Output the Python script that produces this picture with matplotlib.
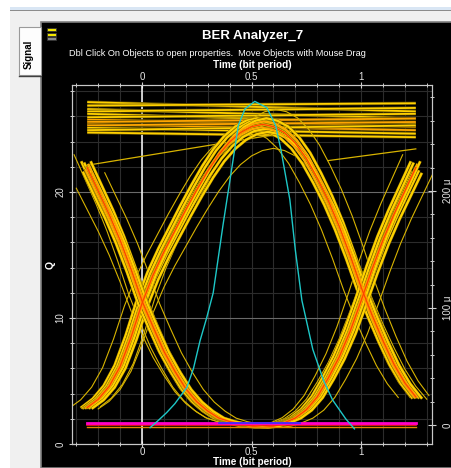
import matplotlib
matplotlib.use('Agg')
import matplotlib.pyplot as plt
from matplotlib.patches import Rectangle
from matplotlib.ticker import MultipleLocator, FixedLocator, FixedFormatter
import matplotlib.patheffects as pe

plt.rcParams['font.family'] = ['Liberation Sans', 'DejaVu Sans']

# ---------------- data ----------------
# eye-diagram sample times (bit periods)
t_pts = [-0.25, -0.2, -0.15, -0.1, -0.05, 0.0, 0.05, 0.1, 0.15, 0.2, 0.25,
         0.3, 0.35, 0.4, 0.45, 0.5, 0.55, 0.6, 0.65, 0.7, 0.75, 0.8, 0.85,
         0.9, 0.95, 1.0, 1.05, 1.1, 1.15, 1.2, 1.25]
# 0-1-0 trace core (uW, right axis)
hump_uW = [15, 22, 33, 50, 75, 104, 128, 148, 166, 184, 201, 217, 231, 242,
           250, 255, 257, 255, 250, 241, 228, 211, 192, 170, 145, 118, 94, 72,
           52, 36, 24]
# 1-0-1 trace core (uW, right axis)
bowl_uW = [220, 200, 180, 158, 133, 106, 84, 63, 46, 31, 20, 12, 6, 3, 1, -1,
           -2, -1, 2, 6, 13, 24, 40, 58, 80, 106, 133, 158, 180, 200, 220]
# spread of the traces in the bands
band_shift = [-0.025, -0.018, -0.012, -0.006, 0.0, 0.006, 0.012, 0.018, 0.025]
band_gain = [1.02, 0.98, 1.015, 0.99, 1.0, 1.01, 0.985, 1.02, 0.975]
outlier_shift = [-0.08, 0.05, 0.06]
outlier_gain = [0.98, 0.92, 1.05]
# "1" level flat traces: level at t=-0.25 and t=1.25 (uW)
span = [-0.25, 1.25]
flat_start = [276, 273, 270, 268, 266, 263, 261, 259, 257, 256, 254, 252, 250]
flat_end = [268, 275, 262, 271, 258, 266, 255, 262, 252, 259, 249, 256, 246]
slant_t = [[-0.25, 0.6], [0.85, 1.25]]
slant_uW = [[222, 248], [226, 236]]
# "0" level traces (uW)
zero_levels = [1.5, 0.2, -1.5]
zero_mid_t = [0.35, 0.72]
zero_mid_level = 2.0
# Q-factor curve (left axis)
q_t = [0.037, 0.07, 0.113, 0.15, 0.205, 0.235, 0.265, 0.295, 0.325, 0.37,
       0.41, 0.44, 0.47, 0.515, 0.57, 0.61, 0.635, 0.675, 0.70, 0.73, 0.78,
       0.83, 0.87, 0.93, 0.97]
q_val = [1.3, 1.8, 2.5, 3.2, 4.5, 6.0, 8.2, 10.0, 12.0, 17.4, 21.9, 25.3,
         26.6, 27.2, 26.7, 25.3, 23.3, 19.4, 15.4, 11.4, 7.5, 5.0, 3.5, 2.0,
         1.2]
# axes
x_major = [0, 0.5, 1]
x_labels = ['0', '0.5', '1']
q_major = [0, 10, 20]
q_labels = ['0', '10', '20']
p_major = [0, 100, 200]
p_labels = ['0', '100 \u03bc', '200 \u03bc']

# ---------------- figure & window chrome ----------------
W, H = 452, 468
fig = plt.figure(figsize=(W / 100, H / 100), dpi=100, facecolor='#f0f0f0')
bg = fig.add_axes([0, 0, 1, 1])
bg.set_xlim(0, W)
bg.set_ylim(H, 0)
bg.axis('off')
bg.add_patch(Rectangle((0, 0), 10, H, color='white', lw=0))
bg.add_patch(Rectangle((0, 0), W, 7, color='white', lw=0))
bg.add_patch(Rectangle((10, 7), W - 10, 3, color='#d9e6f4', lw=0))
bg.add_patch(Rectangle((10, 10), W - 10, 1.2, color='#8c8c8c', lw=0))
bg.add_patch(Rectangle((41, 21.5), W - 41, H - 21.5, facecolor='black',
                       edgecolor='#808080', lw=1.2))
bg.add_patch(Rectangle((19, 27), 22, 48, facecolor='#fdfdfd',
                       edgecolor='#9a9a9a', lw=0.8))
bg.plot([19, 41], [75.5, 75.5], color='#404040', lw=1)
bg.text(29, 54, 'Signal', rotation=90, ha='center', va='center', fontsize=7,
        fontweight='bold', color='black')
bg.add_patch(Rectangle((47, 27.5), 9, 3.5, facecolor='#f2e600',
                       edgecolor='#333333', lw=0.6))
bg.add_patch(Rectangle((47, 32.5), 9, 3.5, facecolor='#f2e600',
                       edgecolor='#333333', lw=0.6))
bg.add_patch(Rectangle((47, 37), 9, 2.5, facecolor='#8a8a8a',
                       edgecolor='#333333', lw=0.6))
bg.text(252.5, 36, 'BER Analyzer_7', ha='center', va='center', color='white',
        fontsize=9.5, fontweight='bold')
bg.text(217.5, 53.5,
        'Dbl Click On Objects to open properties.  Move Objects with Mouse Drag',
        ha='center', va='center', color='white', fontsize=6.6)
bg.text(252, 64.5, 'Time (bit period)', ha='center', va='center',
        color='white', fontsize=7.2, fontweight='bold')
bg.text(252, 462, 'Time (bit period)', ha='center', va='center',
        color='white', fontsize=7.2, fontweight='bold')
bg.text(51, 265, 'Q', rotation=90, ha='center', va='center', color='white',
        fontsize=7.5, fontweight='bold')

# ---------------- plot axes ----------------
L, R, T, B = 72, 432, 85, 444
ax = fig.add_axes([L / W, (H - B) / H, (R - L) / W, (B - T) / H])
ax.set_facecolor('black')
ax.set_xlim(-0.3196, 1.324)
ax.set_ylim(0, 28.5)
ax2 = ax.twinx()
ax2.set_ylim(-16.2, 290.6)

for a in (ax, ax2):
    for s in a.spines.values():
        s.set_color('#c8c8c8')
        s.set_linewidth(0.8)
ax.spines['bottom'].set_linestyle((0, (1, 1)))
ax2.spines['right'].set_linestyle((0, (1, 1)))

ax.xaxis.set_major_locator(FixedLocator(x_major))
ax.xaxis.set_major_formatter(FixedFormatter(x_labels))
ax.xaxis.set_minor_locator(MultipleLocator(0.1))
ax.yaxis.set_major_locator(FixedLocator(q_major))
ax.yaxis.set_major_formatter(FixedFormatter(q_labels))
ax.yaxis.set_minor_locator(MultipleLocator(2))
ax2.yaxis.set_major_locator(FixedLocator(p_major))
ax2.yaxis.set_major_formatter(FixedFormatter(p_labels))
ax2.yaxis.set_minor_locator(MultipleLocator(20))

ax.tick_params(axis='x', which='both', top=True, bottom=True, labeltop=True,
               labelbottom=True, direction='inout', colors='#d0d0d0',
               labelcolor='#e6e6e6', labelsize=7, pad=0.5)
ax.tick_params(axis='x', which='major', length=4, width=0.8)
ax.tick_params(axis='x', which='minor', length=3, width=0.7)
ax.tick_params(axis='y', which='both', direction='inout', colors='#d0d0d0',
               labelcolor='#e6e6e6', labelsize=7, labelrotation=90, pad=2.5)
ax.tick_params(axis='y', which='major', length=4, width=0.8)
ax.tick_params(axis='y', which='minor', length=3, width=0.7)
ax2.tick_params(axis='y', which='both', direction='inout', colors='#d0d0d0',
                labelcolor='#e6e6e6', labelsize=7, labelrotation=90, pad=5)
ax2.tick_params(axis='y', which='major', length=6, width=0.8)
ax2.tick_params(axis='y', which='minor', length=3, width=0.7)
for lab in ax.get_yticklabels() + ax2.get_yticklabels():
    lab.set_va('center')

ax.set_axisbelow(True)
ax.grid(which='minor', color='#2c2c2c', lw=0.8)
ax.grid(which='major', axis='y', color='#6a6a6a', lw=0.8)
ax.grid(which='major', axis='x', color='#2c2c2c', lw=0.8)
ax.axvline(x_major[0], color='white', lw=1.1, zorder=1)

# ---------------- eye diagram (right axis) ----------------
def shifted(dt):
    return [t + dt for t in t_pts]

def scaled(vals, g):
    return [v * g for v in vals]

outline = [pe.Stroke(linewidth=2.3, foreground='#5a4800'), pe.Normal()]

# "1" level flat traces
for s, e in zip(flat_start, flat_end):
    col = '#ffa500' if 255 <= s <= 261 else '#ffd000'
    ax2.plot(span, [s, e], color=col, lw=1.3, path_effects=outline,
             solid_capstyle='butt', zorder=2)
for tt, vv in zip(slant_t, slant_uW):
    ax2.plot(tt, vv, color='#d8b400', lw=0.9, zorder=2)

# outlier thin traces
for dt, g in zip(outlier_shift, outlier_gain):
    ax2.plot(shifted(dt), scaled(hump_uW, g), color='#d8b400', lw=0.8, zorder=2)
    ax2.plot(shifted(-dt), scaled(bowl_uW, g), color='#d8b400', lw=0.8, zorder=2)

# bands
for shape in (hump_uW, bowl_uW):
    for dt, g in zip(band_shift, band_gain):
        ax2.plot(shifted(dt), scaled(shape, g), color='#ffd200', lw=1.6,
                 path_effects=[pe.Stroke(linewidth=2.2, foreground='#7a6200'),
                               pe.Normal()], zorder=3)
for shape in (hump_uW, bowl_uW):
    for dt, g in zip(band_shift[3:6], band_gain[3:6]):
        ax2.plot(shifted(dt), scaled(shape, g), color='#ffa000', lw=1.1,
                 zorder=4)
    ax2.plot(t_pts, shape, color='#ff4000', lw=0.9, zorder=5)

# "0" level traces
ax2.plot(span, [zero_levels[2]] * 2, color='#e08a00', lw=1.0, zorder=6)
ax2.plot(span, [zero_levels[1]] * 2, color='#ff1a1a', lw=1.2, zorder=6)
ax2.plot(span, [zero_levels[0]] * 2, color='#ff00c8', lw=2.0, zorder=6)
ax2.plot(zero_mid_t, [zero_mid_level] * 2, color='#3030ff', lw=1.2, zorder=6)

# Q curve (left axis)
ax2.plot(q_t, q_val, color='#1ec8c8', lw=1.0, transform=ax.transData,
         zorder=7)

fig.savefig('out.png', dpi=100, facecolor=fig.get_facecolor())
